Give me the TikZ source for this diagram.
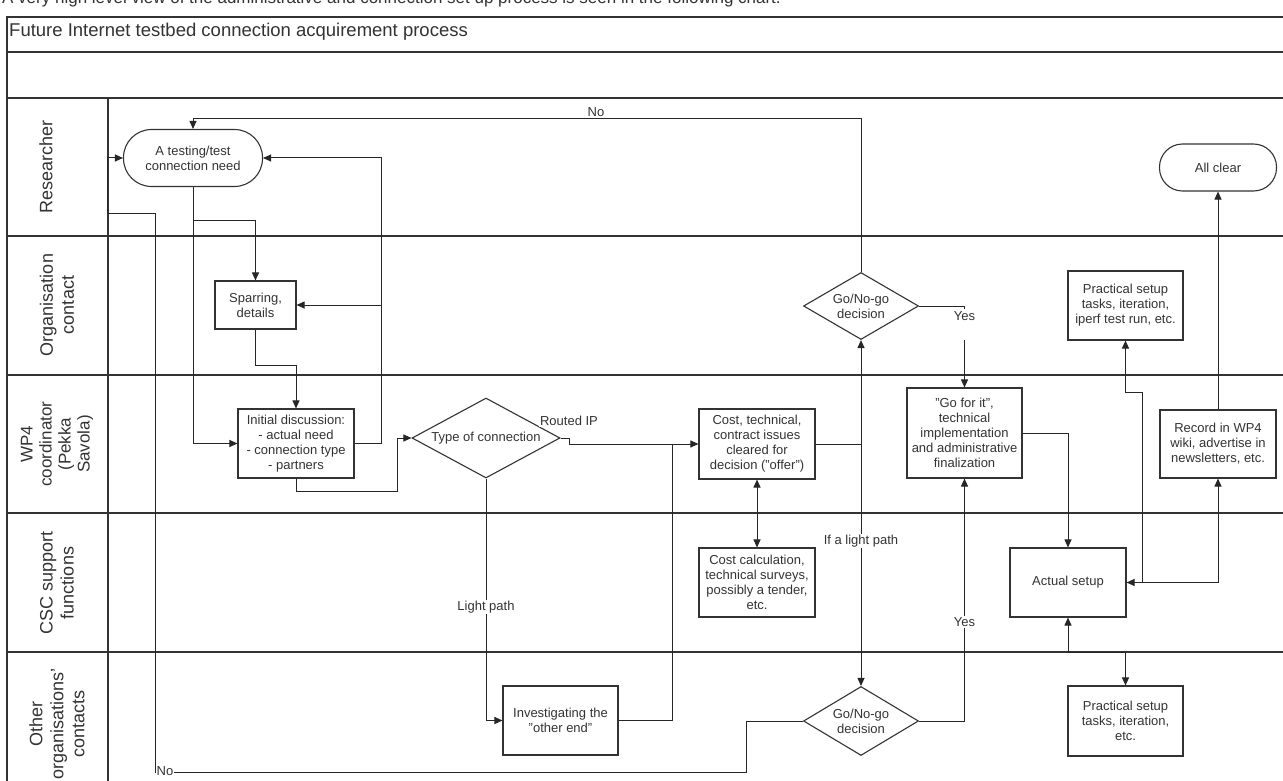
\documentclass[tikz,border=0pt]{standalone}
\usepackage{fontspec}
\setmainfont{Liberation Sans}
\usetikzlibrary{shapes.geometric,arrows.meta,calc}
\begin{document}
\begin{tikzpicture}[x=1pt,y=-1pt,
  every node/.style={font=\fontsize{13}{15}\selectfont, text=black!80},
  box/.style={draw=black!80, line width=1.1pt, align=center, inner sep=0pt},
  termbox/.style={box, rounded corners=23pt},
  dec/.style={draw=black!80, line width=1.1pt, diamond, align=center, inner sep=0pt},
  conn/.style={draw=black!85, line width=1pt},
  arr/.style={conn, -{Triangle[length=8pt,width=7pt]}},
  darr/.style={conn, {Triangle[length=8pt,width=7pt]}-{Triangle[length=8pt,width=7pt]}},
  lbl/.style={fill=white, inner sep=1pt},
  lane/.style={draw=black!80, line width=1.6pt},
  lanetext/.style={rotate=90, align=center, font=\fontsize{18}{21}\selectfont},
]
\useasboundingbox (0,0) rectangle (1283,781);
\clip (0,0) rectangle (1283,781);
\fill[white] (0,0) rectangle (1283,781);

% caption and frame
\node[anchor=base west, inner sep=0pt, font=\fontsize{17}{19}\selectfont] (cap) at (2,4) {A very high level view of the administrative and connection set up process is seen in the following chart.};
\draw[lane] (7,800) -- (7,17) -- (1295,17);
\draw[lane] (7,52) -- (1295,52);
\draw[lane] (7,98) -- (1295,98);
\foreach \yy in {236,375,513,652} { \draw[lane] (7,\yy) -- (1295,\yy); }
\draw[lane] (108,98) -- (108,800);
\node[anchor=base west, inner sep=0pt, font=\fontsize{18.5}{20}\selectfont] (title) at (9,37) {Future Internet testbed connection acquirement process};

% lane labels
\node[lanetext] (l1) at (46,167) {Researcher};
\node[lanetext] (l2) at (57,305) {Organisation\\contact};
\node[lanetext, font=\fontsize{17}{19}\selectfont] (l3) at (57,444) {WP4\\coordinator\\(Pekka\\Savola)};
\node[lanetext] (l4) at (57,583) {CSC support\\functions};
\node[lanetext] (l5) at (57,724) {Other\\organisations'\\contacts};

% nodes
\node[termbox, rounded corners=28pt, minimum width=139pt, minimum height=57pt] (term) at (193,158) {A testing/test\\connection need};
\node[termbox, minimum width=117pt, minimum height=47pt] (allc) at (1218,167.5) {All clear};
\node[box, minimum width=81pt, minimum height=48pt] (spar) at (255.5,305) {Sparring,\\details};
\node[box, minimum width=116pt, minimum height=69pt] (init) at (296,443.5) {Initial discussion:\\- actual need\\- connection type\\- partners};
\node[dec, shape aspect=1.85, minimum width=148pt, minimum height=80pt] (typ) at (486,438) {Type of connection};
\node[box, minimum width=116pt, minimum height=70pt] (cost) at (757,444) {Cost, technical,\\contract issues\\cleared for\\decision ("offer")};
\node[box, minimum width=116pt, minimum height=69pt] (calc) at (757,582.5) {Cost calculation,\\technical surveys,\\possibly a tender,\\etc.};
\node[box, minimum width=115pt, minimum height=69pt] (inv) at (560.5,720.5) {Investigating the\\"other end"};
\node[dec, shape aspect=1.72, minimum width=115pt, minimum height=67pt] (go1) at (861,306) {Go/No-go\\decision};
\node[dec, shape aspect=1.67, minimum width=115pt, minimum height=69pt] (go2) at (861,721) {Go/No-go\\decision};
\node[box, minimum width=115pt, minimum height=90pt] (gofor) at (964.5,433) {"Go for it",\\technical\\implementation\\and administrative\\finalization};
\node[box, minimum width=116pt, minimum height=69pt] (act) at (1068,582.5) {Actual setup};
\node[box, minimum width=115pt, minimum height=69pt] (prac1) at (1125.5,305.5) {Practical setup\\tasks, iteration,\\iperf test run, etc.};
\node[box, minimum width=115pt, minimum height=70pt] (prac2) at (1125.5,721) {Practical setup\\tasks, iteration,\\etc.};
\node[box, minimum width=116pt, minimum height=68pt] (rec) at (1218,444) {Record in WP4\\wiki, advertise in\\newsletters, etc.};

% connectors
\draw[arr] (term.south) -- ++(0,33) -| (spar.north);
\draw[arr] (term.south) |- (init.west);
\draw[arr] (spar.south) -- ++(0,36) -| (init.north);
\draw[arr] (init.east) -- (381,443.5) |- (term.east);
\draw[arr] (381,305) -- (spar.east);
\draw[arr] (init.south) -- ++(0,13) -| (397,438) -- (typ.west);
\draw[arr] (typ.east) -- ++(9,0) -- ++(0,6) -- (cost.west);
\node[lbl] (routed) at (569,421) {Routed IP};
\draw[arr] (typ.south) |- (inv.west);
\node[lbl] (light) at (486,607) {Light path};
\draw[conn] (inv.east) -| (672,444);
\draw[darr] (cost.south) -- (calc.north);
\draw[conn] (cost.east) -- (861,444);
\draw[arr] (861,444) -- (go1.south);
\draw[arr] (861,444) -- (go2.north);
\node[lbl] (iflight) at (861,541) {If a light path};
\draw[arr] (go1.north) -- (861,119) -| (term.north);
\node[lbl] (no1) at (596,112) {No};
\draw[conn] (go1.east) -| (964.5,309);
\draw[arr] (964.5,340) -- (gofor.north);
\node[lbl] (yes1) at (964.5,316) {Yes};
\draw[arr] (go2.east) -| (gofor.south);
\node[lbl] (yes2) at (964.5,622) {Yes};
\draw[arr] (go2.west) -- (746,721) -- (746,772) -- (155,772) -- (155,213) -- (107,213) |- (term.west);
\node[lbl, anchor=west, inner sep=0.5pt] (no2) at (156,771) {No};
\draw[arr] (gofor.east) -| (act.north);
\draw[darr] (act.east) -- (1218,582.5) -- (rec.south);
\draw[arr] (1142,582.5) -- (1142,392) -| (prac1.south);
\draw[darr] (act.south) -- (1068,652) -| (prac2.north);
\draw[arr] (rec.north) -- (allc.south);
\end{tikzpicture}
\end{document}
